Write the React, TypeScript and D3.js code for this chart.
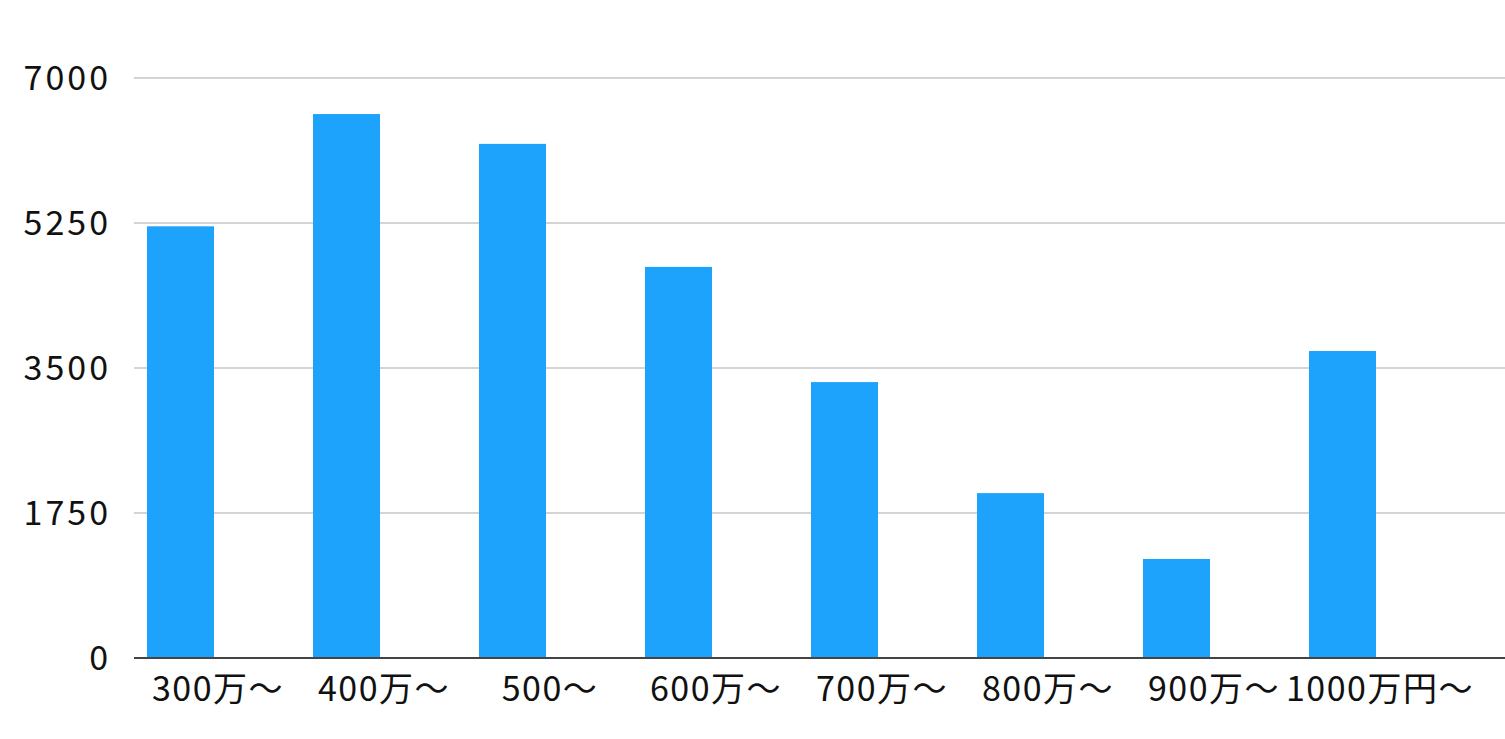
import { useEffect, useRef } from "react";
import * as d3 from "d3";

const categories = ["300万〜", "400万〜", "500〜", "600万〜", "700万〜", "800万〜", "900万〜", "1000万円〜"];
const values = [5210, 6565, 6205, 4720, 3330, 1990, 1195, 3705];
const yTicks = [0, 1750, 3500, 5250, 7000];

const App: React.FC = () => {
  const ref = useRef<SVGSVGElement>(null);

  useEffect(() => {
    const width = 1505;
    const height = 739;
    const font = "'Noto Sans CJK JP', 'Noto Sans', sans-serif";

    const svg = d3.select(ref.current).attr("width", width).attr("height", height);
    svg.selectAll("*").remove();

    const x = d3.scaleBand<string>().domain(categories).range([134, 1462]).padding(0);
    const y = d3.scaleLinear().domain([0, 7000]).range([658, 78]);

    // グリッド線
    svg.append("g")
      .selectAll("line")
      .data(yTicks.slice(1))
      .join("line")
      .attr("x1", 134)
      .attr("x2", width)
      .attr("y1", d => y(d))
      .attr("y2", d => y(d))
      .attr("stroke", "#c6c6c6")
      .attr("stroke-width", 1.5);

    // 縦軸ラベル
    svg.append("g")
      .selectAll("text")
      .data(yTicks)
      .join("text")
      .attr("x", 111)
      .attr("y", d => y(d))
      .attr("dy", "0.36em")
      .attr("text-anchor", "end")
      .attr("font-family", font)
      .attr("font-size", 34)
      .attr("letter-spacing", 3)
      .attr("fill", "#111")
      .text(d => d);

    // 棒
    svg.append("g")
      .selectAll("rect")
      .data(values)
      .join("rect")
      .attr("x", (_, i) => (x(categories[i]) as number) + 13)
      .attr("width", 67)
      .attr("y", d => y(d))
      .attr("height", d => y(0) - y(d))
      .attr("fill", "#1ea3fd");

    // 横軸
    svg.append("line")
      .attr("x1", 134)
      .attr("x2", width)
      .attr("y1", y(0))
      .attr("y2", y(0))
      .attr("stroke", "#444")
      .attr("stroke-width", 2);

    // 横軸ラベル
    svg.append("g")
      .selectAll("text")
      .data(categories)
      .join("text")
      .attr("x", d => (x(d) as number) + x.bandwidth() / 2 + 1)
      .attr("y", 701)
      .attr("text-anchor", "middle")
      .attr("font-family", font)
      .attr("font-size", 34)
      .attr("letter-spacing", 1.5)
      .attr("fill", "#111")
      .text(d => d);
  }, []);

  return (
    <div style={{ position: "fixed", top: 0, left: 0, background: "#fff" }}>
      <svg ref={ref} />
    </div>
  );
};

export default App;
